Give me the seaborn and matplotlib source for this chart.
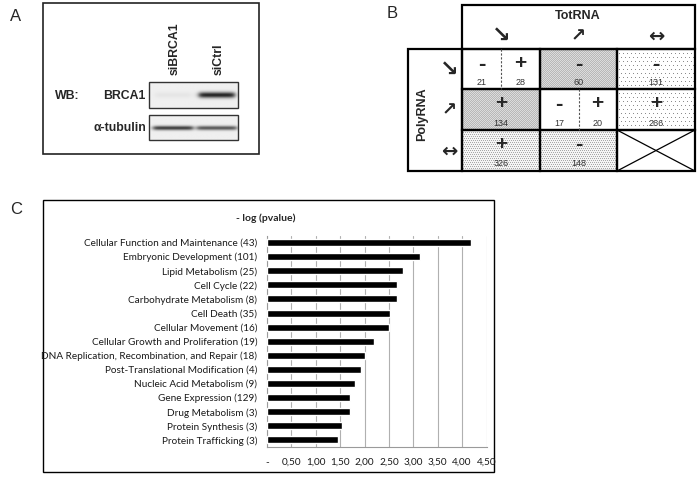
"""
plot.py - Figura de 3 paneles: western blot (A), tabla TotRNA/PolyRNA (B)
y barras de enriquecimiento -log(pvalue) (C).
"""

import numpy as np
import pandas as pd
import matplotlib
matplotlib.use("Agg")
import matplotlib.pyplot as plt
from matplotlib.patches import Rectangle
import seaborn as sns


# ── Panel C: categorías funcionales ─────────────────────────────
categories = [
    "Cellular Function and Maintenance (43)",
    "Embryonic Development (101)",
    "Lipid Metabolism (25)",
    "Cell Cycle (22)",
    "Carbohydrate Metabolism (8)",
    "Cell Death (35)",
    "Cellular Movement (16)",
    "Cellular Growth and Proliferation (19)",
    "DNA Replication, Recombination, and Repair (18)",
    "Post-Translational Modification (4)",
    "Nucleic Acid Metabolism (9)",
    "Gene Expression (129)",
    "Drug Metabolism (3)",
    "Protein Synthesis (3)",
    "Protein Trafficking (3)",
]
neg_log_p = [4.18, 3.14, 2.78, 2.67, 2.67, 2.53, 2.51, 2.20,
             2.00, 1.92, 1.80, 1.70, 1.70, 1.53, 1.46]
x_ticks = [0.0, 0.5, 1.0, 1.5, 2.0, 2.5, 3.0, 3.5, 4.0, 4.5]
x_tick_labels = ["-", "0,50", "1,00", "1,50", "2,00", "2,50",
                 "3,00", "3,50", "4,00", "4,50"]

# ── Panel A: western blot ───────────────────────────────────────
lanes = ["siBRCA1", "siCtrl"]
brca1_signal = [0.04, 0.80]
tubulin_signal = [0.70, 0.60]

# ── Panel B: tabla TotRNA vs PolyRNA ────────────────────────────
tot_labels = ["\u2198", "\u2197", "\u2194"]
poly_labels = ["\u2198", "\u2197", "\u2194"]
cell_signs = [[["-", "+"], ["-"], ["-"]],
              [["+"], ["-", "+"], ["+"]],
              [["+"], ["-"], []]]
cell_counts = [[[21, 28], [60], [131]],
               [[134], [17, 20], [266]],
               [[326], [148], []]]
cell_shade = [["none", "dense", "sparse"],
              ["dense", "none", "sparse"],
              ["medium", "medium", "none"]]

# punteado: (paso x, paso y, fondo, punto)
SHADES = {
    "dense": (2, 1, 0.86, 0.72),
    "medium": (2, 2, 0.96, 0.66),
    "sparse": (4, 4, 1.00, 0.55),
}
ARROW_SIZE = {"\u2198": 16, "\u2197": 13, "\u2194": 14}

W, H = 700, 478


def stipple(ov, x0, y0, x1, y1, shade):
    px, py, base, dot = SHADES[shade]
    h, w = int(round(y1 - y0)), int(round(x1 - x0))
    yy, xx = np.mgrid[0:h, 0:w]
    shift = (yy // py % 2) * (px // 2)
    mask = (yy % py == 0) & ((xx + shift) % px == 0)
    img = np.where(mask, dot, base)
    ov.imshow(img, cmap="gray", vmin=0, vmax=1, aspect="auto",
              extent=(x0, x1, y1, y0), interpolation="nearest")


def draw_panel_a(ov):
    ov.text(10, 16, "A", fontsize=12, ha="left", va="center")
    ov.add_patch(Rectangle((43, 3), 216, 151, fill=False, lw=1.2, ec="#222"))

    lane_x = [173, 217]
    for x, name in zip(lane_x, lanes):
        ov.text(x + 2, 75, name, rotation=90, ha="center", va="bottom",
                fontsize=8.8, fontweight="bold")

    ov.text(55, 96, "WB:", fontsize=8.8, fontweight="bold", va="center")
    ov.text(146, 96, "BRCA1", fontsize=8.8, fontweight="bold",
            va="center", ha="right")
    ov.text(146, 128, "\u03b1-tubulin", fontsize=8.8, fontweight="bold",
            va="center", ha="right")

    # tiras del blot
    strips = [(82, 108, 95, 3.0, brca1_signal, 36),
              (115, 140, 128, 2.2, tubulin_signal, 40)]
    for top, bottom, yc, sy, signal, bw in strips:
        xs = np.linspace(149, 238, 180)
        ys = np.linspace(top, bottom, 60)
        X, Y = np.meshgrid(xs, ys)
        img = np.full(X.shape, 0.94)
        for c, s in zip(lane_x, signal):
            edge = (1 / (1 + np.exp(-(X - (c - bw / 2)) / 1.5))
                    * 1 / (1 + np.exp((X - (c + bw / 2)) / 1.5)))
            img -= s * edge * np.exp(-((Y - yc) / sy) ** 2)
        ov.imshow(img, cmap="gray", vmin=0, vmax=1, aspect="auto",
                  extent=(149, 238, bottom, top), interpolation="bilinear")
        ov.add_patch(Rectangle((149, top), 89, bottom - top, fill=False,
                               lw=1.0, ec="#333"))


def draw_panel_b(ov):
    ov.text(387, 13, "B", fontsize=12, ha="left", va="center")
    col_edges = [462, 540, 617, 695]
    row_edges = [49, 89, 130, 171]
    lw = 1.6

    # cabecera TotRNA
    ov.add_patch(Rectangle((462, 5), 233, 44, fill=False, lw=lw, ec="black"))
    ov.text(578, 16, "TotRNA", fontsize=9, fontweight="bold",
            ha="center", va="center")
    for j, arr in enumerate(tot_labels):
        xc = (col_edges[j] + col_edges[j + 1]) / 2
        ov.text(xc, 36, arr, fontsize=ARROW_SIZE[arr], fontweight="bold",
                family="DejaVu Sans", ha="center", va="center")

    # columna PolyRNA
    ov.add_patch(Rectangle((408, 49), 54, 122, fill=False, lw=lw, ec="black"))
    ov.text(422, 114, "PolyRNA", rotation=90, fontsize=9,
            fontweight="bold", ha="center", va="center")
    for i, arr in enumerate(poly_labels):
        yc = (row_edges[i] + row_edges[i + 1]) / 2
        ov.text(449, yc + 1, arr, fontsize=ARROW_SIZE[arr], fontweight="bold",
                family="DejaVu Sans", ha="center", va="center")

    # celdas
    for i in range(3):
        for j in range(3):
            x0, x1 = col_edges[j], col_edges[j + 1]
            y0, y1 = row_edges[i], row_edges[i + 1]
            shade = cell_shade[i][j]
            if shade != "none":
                stipple(ov, x0, y0, x1, y1, shade)
            ov.add_patch(Rectangle((x0, y0), x1 - x0, y1 - y0, fill=False,
                                   lw=lw, ec="black"))
            signs = cell_signs[i][j]
            counts = cell_counts[i][j]
            if not signs:
                ov.plot([x0, x1], [y0, y1], color="black", lw=0.9)
                ov.plot([x0, x1], [y1, y0], color="black", lw=0.9)
                continue
            n = len(signs)
            if n == 2:
                xm = (x0 + x1) / 2
                ov.plot([xm, xm], [y0, y1], color="#555", lw=0.8,
                        ls=(0, (2, 1.5)))
            for k, (s, c) in enumerate(zip(signs, counts)):
                xc = x0 + (x1 - x0) * (2 * k + 1) / (2 * n)
                if s == "-":
                    ov.text(xc, y0 + 15, s, fontsize=16, fontweight="bold",
                            ha="center", va="center")
                else:
                    ov.text(xc, y0 + 14, s, fontsize=15, fontweight="bold",
                            ha="center", va="center")
                ov.text(xc, y1 - 7, str(c), fontsize=6.5, color="#333",
                        ha="center", va="center")


def draw_panel_c(fig, ov):
    ov.text(10, 209, "C", fontsize=12, ha="left", va="center")
    ov.add_patch(Rectangle((43, 200), 451, 272, fill=False, lw=1.0,
                           ec="black"))
    fig.text(266 / W, 1 - 218 / H, "- log (pvalue)", fontsize=7.5,
             fontweight="bold", ha="center", va="center",
             family=["Lato", "DejaVu Sans"])

    ax = fig.add_axes([267 / W, 1 - 447 / H, 219.5 / W, 211.5 / H])
    df = pd.DataFrame({"category": categories, "value": neg_log_p})
    sns.barplot(data=df, x="value", y="category", orient="h", color="black",
                width=0.5, saturation=1, ax=ax, zorder=3)
    ax.set_xlim(0, 4.5)
    ax.set_ylim(len(categories) - 0.5, -0.5)
    ax.set_xticks(x_ticks)
    ax.set_xticklabels(x_tick_labels)
    ax.set_xlabel("")
    ax.set_ylabel("")
    ax.grid(axis="x", color="#b0b0b0", lw=0.8, zorder=0)
    ax.set_axisbelow(True)
    for side in ["top", "right"]:
        ax.spines[side].set_visible(False)
    for side in ["left", "bottom"]:
        ax.spines[side].set_color("#9a9a9a")
        ax.spines[side].set_linewidth(0.8)
    ax.set_yticks(np.arange(len(categories) + 1) - 0.5, minor=True)
    ax.tick_params(axis="y", which="major", length=0, pad=7, labelsize=7.2,
                   labelcolor="#1a1a1a")
    ax.tick_params(axis="y", which="minor", length=3, color="#9a9a9a",
                   width=0.8)
    ax.tick_params(axis="x", which="major", length=3, color="#9a9a9a",
                   width=0.8, pad=5, labelsize=7.2, labelcolor="#1a1a1a")
    for lab in ax.get_xticklabels() + ax.get_yticklabels():
        lab.set_family(["Lato", "DejaVu Sans"])


def run():
    sns.set_theme(style="white")
    plt.rcParams["font.family"] = ["Liberation Sans", "DejaVu Sans"]

    fig = plt.figure(figsize=(7, 4.78), dpi=100)
    ov = fig.add_axes([0, 0, 1, 1])
    ov.set_xlim(0, W)
    ov.set_ylim(H, 0)
    ov.axis("off")

    draw_panel_a(ov)
    draw_panel_b(ov)
    draw_panel_c(fig, ov)

    fig.savefig("out.png", dpi=100)
    plt.close(fig)


if __name__ == "__main__":
    run()
